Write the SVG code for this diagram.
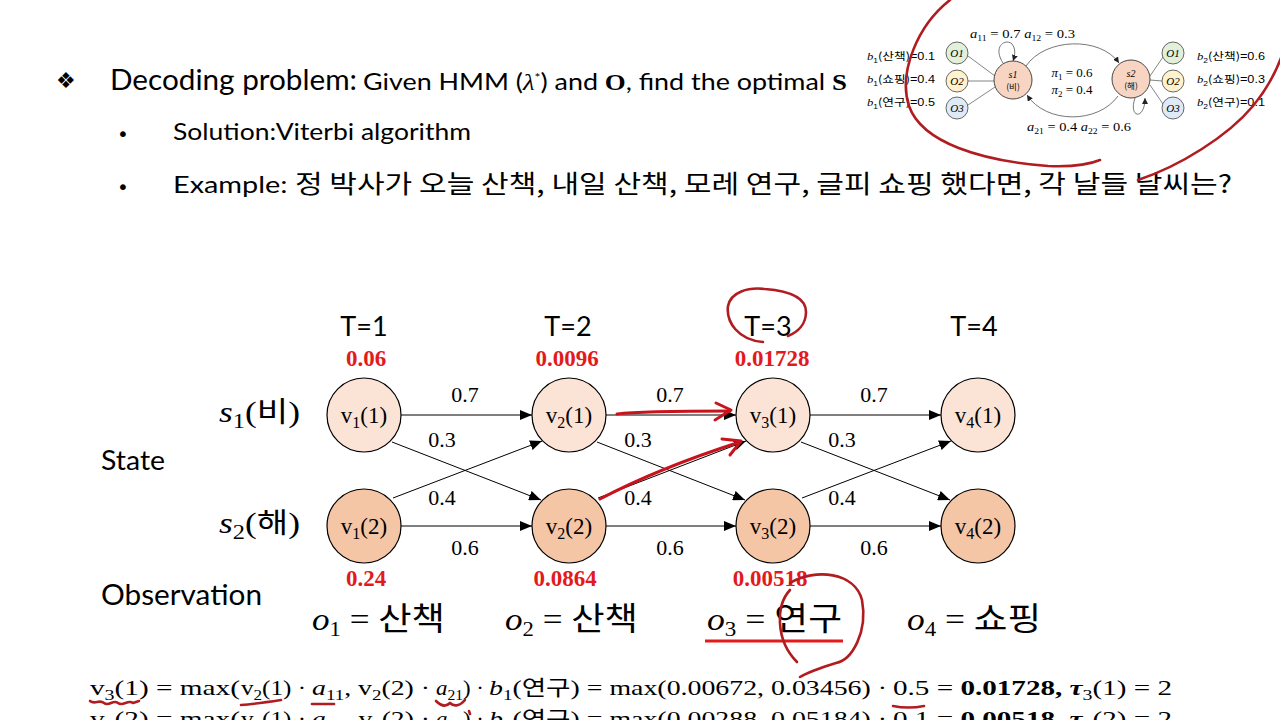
<svg xmlns="http://www.w3.org/2000/svg" width="1280" height="720" viewBox="0 0 1280 720">
<style>
.hd{font-family:Lato,"Liberation Sans","Noto Sans CJK KR",sans-serif;fill:#000}
.kr{font-family:"Noto Sans CJK KR",sans-serif}
.ser{font-family:"Liberation Serif","DejaVu Serif",serif;fill:#000}
.it{font-style:italic}
.bd{font-weight:bold}
.red{fill:#E31A1C;font-family:"Liberation Serif","DejaVu Serif",serif;font-weight:bold;font-size:23px}
.n1{fill:#FBE3D5;stroke:#000;stroke-width:1.2}
.n2{fill:#F5C6A5;stroke:#000;stroke-width:1.2}
.edge{stroke:#000;stroke-width:1;fill:none}
.ann{stroke:#B01C20;stroke-width:2.6;fill:none;stroke-linecap:round;stroke-linejoin:round}
.ann2{stroke:#C8121C;stroke-width:3;fill:none;stroke-linecap:round;stroke-linejoin:round}
.sm{stroke:#777;stroke-width:0.9;fill:none}
.st{fill:#F8D5C2;stroke:#333;stroke-width:0.9}
</style>
<defs>
<marker id="ah" markerWidth="12" markerHeight="10" refX="12" refY="5" orient="auto" markerUnits="userSpaceOnUse">
<path d="M0,0 L12,5 L0,10 z" fill="#000"/>
</marker>
<marker id="ahs" markerWidth="6" markerHeight="6" refX="6" refY="3" orient="auto" markerUnits="userSpaceOnUse">
<path d="M0,0 L6,3 L0,6 z" fill="#222"/>
</marker>
</defs>
<rect width="1280" height="720" fill="#fff"/>

<!-- Header -->
<g id="header">
<text x="56" y="88" font-family="DejaVu Sans,sans-serif" font-size="22">❖</text>
<text x="110" y="90" class="hd" font-size="28" textLength="247" lengthAdjust="spacingAndGlyphs">Decoding problem:</text>
<text x="363" y="90" class="hd" font-size="23" textLength="484" lengthAdjust="spacingAndGlyphs">Given HMM (<tspan class="ser it">λ</tspan><tspan dy="-8" font-size="12">*</tspan><tspan dy="8">) and </tspan><tspan class="ser bd">O</tspan>, find the optimal <tspan class="ser bd">S</tspan></text>
<text x="117" y="141" font-family="DejaVu Sans,sans-serif" font-size="20">•</text>
<text x="173" y="140" class="hd" font-size="24" textLength="298" lengthAdjust="spacingAndGlyphs">Solution:Viterbi algorithm</text>
<text x="117" y="194" font-family="DejaVu Sans,sans-serif" font-size="20">•</text>
<text x="173" y="193" class="hd" font-size="24" textLength="1059" lengthAdjust="spacingAndGlyphs">Example: <tspan class="kr" font-size="25">정 박사가 오늘 산책, 내일 산책, 모레 연구, 글피 쇼핑 했다면, 각 날들 날씨는?</tspan></text>
</g>

<!-- Small HMM diagram -->
<g id="hmm">
<g class="sm">
<path d="M968,56 L995,76"/><path d="M968,81 L994,81"/><path d="M968,105 L995,87"/>
<path d="M1150,76 L1163,57"/><path d="M1150,80 L1162,81"/><path d="M1150,85 L1163,104"/>
</g>
<g stroke="#666" stroke-width="0.9" fill="none">
<path d="M1003,63 C992,46 1006,38 1012,44 C1016,49 1015,55 1013,61" marker-end="url(#ahs)"/>
<path d="M1026,66 C1045,38 1100,36 1119,63" marker-end="url(#ahs)"/>
<path d="M1118,96 C1098,124 1046,124 1027,95" marker-end="url(#ahs)"/>
<path d="M1135,98 C1128,118 1145,121 1145,98" marker-end="url(#ahs)"/>
</g>
<circle cx="1013" cy="80" r="19" class="st"/>
<circle cx="1131" cy="79" r="19" class="st"/>
<text x="1013" y="78" class="ser it" font-size="10" text-anchor="middle">s1</text>
<text x="1013" y="90" class="kr" font-size="8.5" text-anchor="middle">(비)</text>
<text x="1131" y="77" class="ser it" font-size="10" text-anchor="middle">s2</text>
<text x="1131" y="89" class="kr" font-size="8.5" text-anchor="middle">(해)</text>
<circle cx="957" cy="53" r="11" fill="#E2EFD9" stroke="#444" stroke-width="0.8"/>
<circle cx="957" cy="81" r="11" fill="#FFF2CC" stroke="#444" stroke-width="0.8"/>
<circle cx="957" cy="108" r="11" fill="#DEEBF7" stroke="#444" stroke-width="0.8"/>
<circle cx="1173" cy="53" r="11" fill="#E2EFD9" stroke="#444" stroke-width="0.8"/>
<circle cx="1173" cy="81" r="11" fill="#FFF2CC" stroke="#444" stroke-width="0.8"/>
<circle cx="1173" cy="108" r="11" fill="#DEEBF7" stroke="#444" stroke-width="0.8"/>
<g class="ser it" font-size="11" text-anchor="middle">
<text x="957" y="57">O1</text><text x="957" y="85">O2</text><text x="957" y="112">O3</text>
<text x="1173" y="57">O1</text><text x="1173" y="85">O2</text><text x="1173" y="112">O3</text>
</g>
<text x="970" y="38" class="ser" font-size="12" textLength="105" lengthAdjust="spacingAndGlyphs"><tspan class="it">a</tspan><tspan dy="3" font-size="8">11</tspan><tspan dy="-3"> = 0.7  </tspan><tspan class="it">a</tspan><tspan dy="3" font-size="8">12</tspan><tspan dy="-3"> = 0.3</tspan></text>
<text x="1072" y="77" class="ser" font-size="13" text-anchor="middle"><tspan class="it">π</tspan><tspan dy="3" font-size="9">1</tspan><tspan dy="-3"> = 0.6</tspan></text>
<text x="1072" y="94" class="ser" font-size="13" text-anchor="middle"><tspan class="it">π</tspan><tspan dy="3" font-size="9">2</tspan><tspan dy="-3"> = 0.4</tspan></text>
<text x="1027" y="131" class="ser" font-size="12" textLength="104" lengthAdjust="spacingAndGlyphs"><tspan class="it">a</tspan><tspan dy="3" font-size="8">21</tspan><tspan dy="-3"> = 0.4 </tspan><tspan class="it">a</tspan><tspan dy="3" font-size="8">22</tspan><tspan dy="-3"> = 0.6</tspan></text>
<g font-size="10.5" font-family="Liberation Sans,'Noto Sans CJK KR',sans-serif">
<text x="867" y="60" textLength="68" lengthAdjust="spacingAndGlyphs"><tspan class="ser it">b</tspan><tspan dy="3" font-size="7">1</tspan><tspan dy="-3" class="kr">(산책)</tspan>=0.1</text>
<text x="867" y="83" textLength="68" lengthAdjust="spacingAndGlyphs"><tspan class="ser it">b</tspan><tspan dy="3" font-size="7">1</tspan><tspan dy="-3" class="kr">(쇼핑)</tspan>=0.4</text>
<text x="867" y="106" textLength="68" lengthAdjust="spacingAndGlyphs"><tspan class="ser it">b</tspan><tspan dy="3" font-size="7">1</tspan><tspan dy="-3" class="kr">(연구)</tspan>=0.5</text>
<text x="1197" y="60" textLength="68" lengthAdjust="spacingAndGlyphs"><tspan class="ser it">b</tspan><tspan dy="3" font-size="7">2</tspan><tspan dy="-3" class="kr">(산책)</tspan>=0.6</text>
<text x="1197" y="83" textLength="68" lengthAdjust="spacingAndGlyphs"><tspan class="ser it">b</tspan><tspan dy="3" font-size="7">2</tspan><tspan dy="-3" class="kr">(쇼핑)</tspan>=0.3</text>
<text x="1197" y="106" textLength="68" lengthAdjust="spacingAndGlyphs"><tspan class="ser it">b</tspan><tspan dy="3" font-size="7">2</tspan><tspan dy="-3" class="kr">(연구)</tspan>=0.1</text>
</g>
</g>

<!-- Row / column labels -->
<g id="labels">
<g class="hd" font-size="27" text-anchor="middle">
<text x="364" y="336">T=1</text><text x="568" y="336">T=2</text><text x="768" y="336">T=3</text><text x="974" y="336">T=4</text>
</g>
<text x="219" y="422" class="ser" font-size="29" textLength="81" lengthAdjust="spacingAndGlyphs"><tspan class="it">s</tspan><tspan dy="6" font-size="20">1</tspan><tspan dy="-6">(</tspan><tspan class="kr" font-size="28">비</tspan>)</text>
<text x="219" y="533" class="ser" font-size="29" textLength="81" lengthAdjust="spacingAndGlyphs"><tspan class="it">s</tspan><tspan dy="6" font-size="20">2</tspan><tspan dy="-6">(</tspan><tspan class="kr" font-size="28">해</tspan>)</text>
<text x="101" y="470" class="hd" font-size="27" textLength="64" lengthAdjust="spacingAndGlyphs">State</text>
<text x="101" y="605" class="hd" font-size="29" textLength="161" lengthAdjust="spacingAndGlyphs">Observation</text>
</g>

<!-- Connectors -->
<g id="connectors">
<line x1="401" y1="415" x2="532" y2="415" class="edge" marker-end="url(#ah)"/>
<line x1="401" y1="526" x2="532" y2="526" class="edge" marker-end="url(#ah)"/>
<line x1="392" y1="442" x2="541" y2="500" class="edge" marker-end="url(#ah)"/>
<line x1="393" y1="498" x2="542" y2="441" class="edge" marker-end="url(#ah)"/>
<line x1="606" y1="415" x2="736" y2="415" class="edge" marker-end="url(#ah)"/>
<line x1="606" y1="526" x2="736" y2="526" class="edge" marker-end="url(#ah)"/>
<line x1="597" y1="442" x2="745" y2="500" class="edge" marker-end="url(#ah)"/>
<line x1="598" y1="498" x2="746" y2="441" class="edge" marker-end="url(#ah)"/>
<line x1="810" y1="415" x2="941" y2="415" class="edge" marker-end="url(#ah)"/>
<line x1="810" y1="526" x2="941" y2="526" class="edge" marker-end="url(#ah)"/>
<line x1="801" y1="442" x2="950" y2="500" class="edge" marker-end="url(#ah)"/>
<line x1="802" y1="498" x2="951" y2="441" class="edge" marker-end="url(#ah)"/>
<g class="ser" font-size="22" text-anchor="middle">
<text x="465" y="402">0.7</text><text x="442" y="447">0.3</text><text x="442" y="505">0.4</text><text x="465" y="555">0.6</text>
<text x="670" y="402">0.7</text><text x="638" y="447">0.3</text><text x="638" y="505">0.4</text><text x="670" y="555">0.6</text>
<text x="874" y="402">0.7</text><text x="842" y="447">0.3</text><text x="842" y="505">0.4</text><text x="874" y="555">0.6</text>
</g>
</g>

<!-- Nodes -->
<g id="v11"><circle cx="364" cy="415" r="37" class="n1"/><text x="364" y="423" class="ser" font-size="23" text-anchor="middle">v<tspan dy="5" font-size="16">1</tspan><tspan dy="-5">(1)</tspan></text></g>
<g id="v21"><circle cx="569" cy="415" r="37" class="n1"/><text x="569" y="423" class="ser" font-size="23" text-anchor="middle">v<tspan dy="5" font-size="16">2</tspan><tspan dy="-5">(1)</tspan></text></g>
<g id="v31"><circle cx="773" cy="415" r="37" class="n1"/><text x="773" y="423" class="ser" font-size="23" text-anchor="middle">v<tspan dy="5" font-size="16">3</tspan><tspan dy="-5">(1)</tspan></text></g>
<g id="v41"><circle cx="978" cy="415" r="37" class="n1"/><text x="978" y="423" class="ser" font-size="23" text-anchor="middle">v<tspan dy="5" font-size="16">4</tspan><tspan dy="-5">(1)</tspan></text></g>
<g id="v12"><circle cx="364" cy="526" r="37" class="n2"/><text x="364" y="534" class="ser" font-size="23" text-anchor="middle">v<tspan dy="5" font-size="16">1</tspan><tspan dy="-5">(2)</tspan></text></g>
<g id="v22"><circle cx="569" cy="526" r="37" class="n2"/><text x="569" y="534" class="ser" font-size="23" text-anchor="middle">v<tspan dy="5" font-size="16">2</tspan><tspan dy="-5">(2)</tspan></text></g>
<g id="v32"><circle cx="773" cy="526" r="37" class="n2"/><text x="773" y="534" class="ser" font-size="23" text-anchor="middle">v<tspan dy="5" font-size="16">3</tspan><tspan dy="-5">(2)</tspan></text></g>
<g id="v42"><circle cx="978" cy="526" r="37" class="n2"/><text x="978" y="534" class="ser" font-size="23" text-anchor="middle">v<tspan dy="5" font-size="16">4</tspan><tspan dy="-5">(2)</tspan></text></g>

<!-- Red values -->
<g id="values" text-anchor="middle">
<text x="366" y="366" class="red">0.06</text>
<text x="567" y="366" class="red">0.0096</text>
<text x="772" y="366" class="red">0.01728</text>
<text x="366" y="586" class="red">0.24</text>
<text x="565" y="586" class="red">0.0864</text>
<text x="770" y="586" class="red">0.00518</text>
</g>

<!-- Observations -->
<g id="obs" class="ser" font-size="31">
<text x="312" y="630" textLength="133" lengthAdjust="spacingAndGlyphs"><tspan class="it">o</tspan><tspan dy="6" font-size="20">1</tspan><tspan dy="-6"> = </tspan><tspan class="kr" font-size="32">산책</tspan></text>
<text x="505" y="630" textLength="133" lengthAdjust="spacingAndGlyphs"><tspan class="it">o</tspan><tspan dy="6" font-size="20">2</tspan><tspan dy="-6"> = </tspan><tspan class="kr" font-size="32">산책</tspan></text>
<text x="707" y="630" textLength="135" lengthAdjust="spacingAndGlyphs"><tspan class="it">o</tspan><tspan dy="6" font-size="20">3</tspan><tspan dy="-6"> = </tspan><tspan class="kr" font-size="32">연구</tspan></text>
<text x="907" y="630" textLength="134" lengthAdjust="spacingAndGlyphs"><tspan class="it">o</tspan><tspan dy="6" font-size="20">4</tspan><tspan dy="-6"> = </tspan><tspan class="kr" font-size="32">쇼핑</tspan></text>
<line x1="705" y1="641" x2="843" y2="641" stroke="#E31A1C" stroke-width="3"/>
</g>

<!-- Formulas -->
<g id="formula" class="ser" font-size="22">
<text x="90" y="695" textLength="150" lengthAdjust="spacingAndGlyphs">v<tspan dy="5" font-size="15">3</tspan><tspan dy="-5">(1) = max(</tspan></text>
<text x="241" y="695" textLength="65" lengthAdjust="spacingAndGlyphs">v<tspan dy="5" font-size="15">2</tspan><tspan dy="-5">(1) ·</tspan></text>
<text x="312" y="695" textLength="118" lengthAdjust="spacingAndGlyphs"><tspan class="it">a</tspan><tspan dy="5" font-size="15">11</tspan><tspan dy="-5">, v</tspan><tspan dy="5" font-size="15">2</tspan><tspan dy="-5">(2) ·</tspan></text>
<text x="436" y="695" textLength="48" lengthAdjust="spacingAndGlyphs"><tspan class="it">a</tspan><tspan dy="5" font-size="15">21</tspan><tspan dy="-5">) ·</tspan></text>
<text x="489" y="695" textLength="398" lengthAdjust="spacingAndGlyphs"><tspan class="it">b</tspan><tspan dy="5" font-size="15">1</tspan><tspan dy="-5">(</tspan><tspan class="kr" font-size="21">연구</tspan>) = max(0.00672, 0.03456) ·</text>
<text x="893" y="695" textLength="279" lengthAdjust="spacingAndGlyphs">0.5 = <tspan class="bd">0.01728, </tspan><tspan class="bd it">τ</tspan><tspan dy="5" font-size="15">3</tspan><tspan dy="-5">(1) = 2</tspan></text>
<text x="90" y="726" textLength="150" lengthAdjust="spacingAndGlyphs">v<tspan dy="5" font-size="15">3</tspan><tspan dy="-5">(2) = max(</tspan></text>
<text x="241" y="726" textLength="65" lengthAdjust="spacingAndGlyphs">v<tspan dy="5" font-size="15">2</tspan><tspan dy="-5">(1) ·</tspan></text>
<text x="312" y="726" textLength="118" lengthAdjust="spacingAndGlyphs"><tspan class="it">a</tspan><tspan dy="5" font-size="15">12</tspan><tspan dy="-5">, v</tspan><tspan dy="5" font-size="15">2</tspan><tspan dy="-5">(2) ·</tspan></text>
<text x="436" y="726" textLength="48" lengthAdjust="spacingAndGlyphs"><tspan class="it">a</tspan><tspan dy="5" font-size="15">22</tspan><tspan dy="-5">) ·</tspan></text>
<text x="489" y="726" textLength="398" lengthAdjust="spacingAndGlyphs"><tspan class="it">b</tspan><tspan dy="5" font-size="15">2</tspan><tspan dy="-5">(</tspan><tspan class="kr" font-size="21">연구</tspan>) = max(0.00288, 0.05184) ·</text>
<text x="893" y="726" textLength="279" lengthAdjust="spacingAndGlyphs">0.1 = <tspan class="bd">0.00518, </tspan><tspan class="bd it">τ</tspan><tspan dy="5" font-size="15">3</tspan><tspan dy="-5">(2) = 2</tspan></text>
</g>

<!-- Hand-drawn annotations -->
<g id="annotations">
<path class="ann" d="M950,0 C918,25 898,72 909,106 C922,143 982,161 1048,166 C1072,167 1088,165 1100,160"/>
<path class="ann" d="M1138,180 C1180,166 1228,136 1253,106 C1266,90 1275,74 1281,58"/>
<path class="ann" d="M763,342 C738,340 726,322 728,306 C731,292 748,287 765,289 C790,291 806,298 806,312 C806,324 798,332 788,336"/>
<path class="ann" d="M790,590 C776,605 775,640 797,662"/>
<path class="ann" d="M790,583 C815,568 855,572 862,600 C868,632 852,660 836,663 C820,668 808,672 800,677"/>
<path class="ann2" d="M617,414 C640,411 680,411 730,411"/>
<path class="ann2" d="M716,403 L731,410 L715,420"/>
<path class="ann2" d="M600,499 C640,478 690,458 740,442"/>
<path class="ann2" d="M722,439 L741,441 L730,455"/>
<path class="ann" d="M90,701 C95,705 99,699 104,703 C109,707 113,699 118,703 C123,707 128,699 133,703 L139,701"/>
<path class="ann" d="M241,705 C255,704 268,702 281,700"/>
<path class="ann" d="M312,704 L334,704"/>
<path class="ann" d="M436,701 C441,706 446,707 450,703 C454,707 460,706 465,700"/>
<path class="ann" d="M469,711 L470,714"/>
<path class="ann" d="M893,706 C903,708 914,708 924,706"/>
</g>
</svg>
